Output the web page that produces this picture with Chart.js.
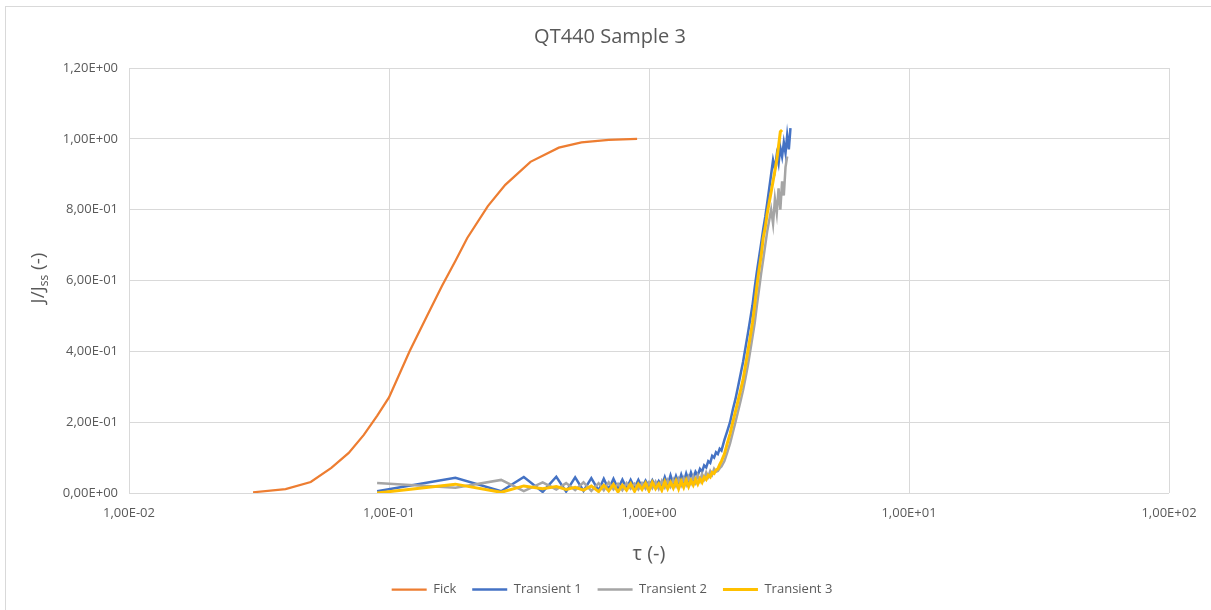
<!DOCTYPE html>
<html>
<head>
<meta charset="utf-8">
<title>QT440 Sample 3</title>
<script src="https://cdn.jsdelivr.net/npm/chart.js@4.4.1/dist/chart.umd.min.js"></script>
<style>
  html, body { margin: 0; padding: 0; background: #fff; }
  #wrap { position: relative; width: 1211px; height: 610px; }
</style>
</head>
<body>
<div id="wrap"><canvas id="myChart" width="1211" height="610"></canvas></div>
<script>
// Fick curve (tau, J/Jss)
const fickTau = [0.03, 0.04, 0.05, 0.06, 0.07, 0.08, 0.09, 0.1, 0.12, 0.14, 0.16, 0.18, 0.2, 0.24, 0.28, 0.35, 0.45, 0.55, 0.7, 0.9];
const fickJ = [0.002, 0.011, 0.031, 0.071, 0.113, 0.164, 0.218, 0.27, 0.40, 0.50, 0.585, 0.655, 0.72, 0.81, 0.87, 0.935, 0.975, 0.99, 0.997, 1.0];

// measurement times shared by the transients
const tauT = [
  0.09, 0.18, 0.27, 0.33, 0.39, 0.44, 0.48, 0.52, 0.56, 0.60,
  0.64, 0.67, 0.70, 0.73, 0.76, 0.79, 0.82, 0.85, 0.88, 0.91,
  0.94, 0.97, 1.00, 1.03, 1.06, 1.09, 1.12, 1.15, 1.18, 1.21,
  1.24, 1.27, 1.30, 1.33, 1.36, 1.39, 1.42, 1.45, 1.48, 1.51,
  1.54, 1.57, 1.60, 1.63, 1.66, 1.69, 1.72, 1.75, 1.78, 1.81,
  1.84, 1.87, 1.90, 1.95, 2.00, 2.05, 2.10, 2.15, 2.20, 2.25,
  2.30, 2.35, 2.40, 2.45, 2.50, 2.55, 2.60, 2.65, 2.70, 2.75,
  2.80, 2.85, 2.90, 2.95, 3.00, 3.05, 3.10, 3.15, 3.20, 3.25,
  3.30, 3.35, 3.40, 3.45, 3.50
];

const transient1 = [
  0.005, 0.043, 0.005, 0.045, 0.003, 0.046, 0.004, 0.044, 0.006, 0.042,
  0.007, 0.040, 0.010, 0.040, 0.012, 0.038, 0.013, 0.037, 0.015, 0.037,
  0.016, 0.035, 0.018, 0.036, 0.017, 0.034, 0.020, 0.045, 0.022, 0.050,
  0.025, 0.048, 0.028, 0.052, 0.030, 0.055, 0.035, 0.058, 0.040, 0.060,
  0.050, 0.068, 0.060, 0.078, 0.072, 0.090, 0.085, 0.105, 0.100, 0.115,
  0.110, 0.125, 0.120, 0.150, 0.175, 0.200, 0.235, 0.265, 0.300, 0.335,
  0.370, 0.410, 0.450, 0.490, 0.530, 0.580, 0.625, 0.665, 0.705, 0.745,
  0.780, 0.820, 0.860, 0.900, 0.940, 0.915, 0.955, 0.930, 0.975, 0.950,
  0.990, 0.960, 1.010, 0.970, 1.030
];

const transient2 = [
  0.028, 0.015, 0.037, 0.005, 0.030, 0.010, 0.028, 0.008, 0.030, 0.006,
  0.028, 0.008, 0.030, 0.010, 0.026, 0.008, 0.028, 0.012, 0.026, 0.010,
  0.028, 0.012, 0.030, 0.014, 0.032, 0.012, 0.034, 0.016, 0.036, 0.018,
  0.038, 0.020, 0.040, 0.022, 0.042, 0.024, 0.045, 0.028, 0.048, 0.030,
  0.050, 0.034, 0.054, 0.040, 0.058, 0.046, 0.062, 0.052, 0.068, 0.060,
  0.062, 0.070, 0.075, 0.090, 0.115, 0.140, 0.170, 0.200, 0.230, 0.260,
  0.290, 0.325, 0.360, 0.400, 0.440, 0.480, 0.530, 0.575, 0.620, 0.660,
  0.700, 0.740, 0.770, 0.800, 0.760, 0.830, 0.790, 0.860, 0.800, 0.880,
  0.840, 0.920, 0.950
];

const transient3 = [
  0.000, 0.025, 0.002, 0.020, 0.012, 0.018, 0.010, 0.016, 0.008, 0.020,
  0.004, 0.022, 0.006, 0.024, 0.003, 0.022, 0.008, 0.026, 0.005, 0.025,
  0.010, 0.028, 0.006, 0.030, 0.012, 0.026, 0.008, 0.032, 0.012, 0.030,
  0.014, 0.034, 0.012, 0.033, 0.016, 0.036, 0.018, 0.035, 0.022, 0.038,
  0.025, 0.040, 0.030, 0.045, 0.038, 0.050, 0.045, 0.058, 0.055, 0.065,
  0.068, 0.080, 0.090, 0.110, 0.140, 0.167, 0.200, 0.230, 0.260, 0.290,
  0.320, 0.360, 0.400, 0.440, 0.480, 0.530, 0.585, 0.630, 0.670, 0.720,
  0.750, 0.790, 0.820, 0.850, 0.880, 0.910, 0.940, 0.980, 1.020, 1.025
];

const xTicks = [0.01, 0.1, 1, 10, 100];
const seriesNames = ["Fick", "Transient 1", "Transient 2", "Transient 3"];
const seriesColors = ["#ED7D31", "#4472C4", "#A5A5A5", "#FFC000"];

const textColor = "#595959";
const gridColor = "#D9D9D9";
const fontFamily = "'Open Sans', sans-serif";

//helper: excel style scientific label, e.g. 1,20E+00
function sci(v) {
  if (Math.abs(v) < 1e-12) return "0,00E+00";
  const e = Math.floor(Math.log10(Math.abs(v)) + 1e-9);
  const m = v / Math.pow(10, e);
  return m.toFixed(2).replace(".", ",") + "E" + (e < 0 ? "-" : "+") + String(Math.abs(e)).padStart(2, "0");
}

function pairs(xs, ys) {
  return ys.map((y, i) => ({ x: xs[i], y: y }));
}

// title, y-axis title (with subscript) and frame
const decorations = {
  id: "decorations",
  beforeDraw(chart) {
    const ctx = chart.ctx;
    ctx.save();
    ctx.strokeStyle = "#D9D9D9";
    ctx.lineWidth = 1;
    ctx.strokeRect(5.5, 6.5, 1210, 700);
    ctx.restore();
  },
  afterDraw(chart) {
    const ctx = chart.ctx;
    ctx.save();
    ctx.fillStyle = textColor;
    ctx.textBaseline = "middle";
    ctx.textAlign = "center";
    ctx.font = "20px " + fontFamily;
    ctx.fillText("QT440 Sample 3", 610, 37);

    // y title rotated
    ctx.translate(39, 278);
    ctx.rotate(-Math.PI / 2);
    ctx.textAlign = "left";
    const big = "19px " + fontFamily;
    const small = "12px " + fontFamily;
    ctx.font = big;
    const w1 = ctx.measureText("J/J").width;
    const w3 = ctx.measureText(" (-)").width;
    ctx.font = small;
    const w2 = ctx.measureText("ss").width;
    let x = -(w1 + w2 + w3) / 2;
    ctx.font = big;
    ctx.fillText("J/J", x, 0);
    x += w1;
    ctx.font = small;
    ctx.fillText("ss", x, 6);
    x += w2;
    ctx.font = big;
    ctx.fillText(" (-)", x, 0);
    ctx.restore();
  }
};

const lineSets = [
  { data: pairs(fickTau, fickJ), width: 2.25, order: 3 },
  { data: pairs(tauT, transient1), width: 2.5, order: 2 },
  { data: pairs(tauT, transient2), width: 2.5, order: 1 },
  { data: pairs(tauT, transient3), width: 3, order: 0 }
];

const config = {
  type: "line",
  data: {
    datasets: lineSets.map((s, i) => ({
      label: seriesNames[i],
      data: s.data,
      borderColor: seriesColors[i],
      backgroundColor: seriesColors[i],
      borderWidth: s.width,
      pointRadius: 0,
      tension: 0,
      fill: false,
      order: s.order
    }))
  },
  options: {
    responsive: false,
    animation: false,
    layout: { padding: { top: 68, right: 42, left: 55, bottom: 4 } },
    plugins: {
      legend: {
        position: "bottom",
        labels: {
          color: textColor,
          font: { family: fontFamily, size: 13 },
          usePointStyle: true,
          pointStyle: "line",
          pointStyleWidth: 35,
          boxHeight: 10,
          padding: 16,
          sort: (a, b) => a.datasetIndex - b.datasetIndex
        }
      },
      title: { display: false },
      tooltip: { enabled: false }
    },
    scales: {
      x: {
        type: "logarithmic",
        min: 0.01,
        max: 100,
        afterBuildTicks: (scale) => {
          scale.ticks = xTicks.map((v) => ({ value: v }));
        },
        afterFit: (scale) => {
          scale.height = 74;
        },
        grid: { color: gridColor, drawTicks: false },
        border: { display: false },
        ticks: {
          color: textColor,
          font: { family: fontFamily, size: 13 },
          padding: 12,
          autoSkip: false,
          maxRotation: 0,
          callback: (v) => sci(v)
        },
        title: {
          display: true,
          text: "τ (-)",
          color: textColor,
          font: { family: fontFamily, size: 20 },
          padding: { top: 0, bottom: 1 }
        }
      },
      y: {
        min: 0,
        max: 1.2,
        afterFit: (scale) => {
          scale.width = 74;
        },
        grid: { color: gridColor, drawTicks: false },
        border: { display: false },
        ticks: {
          stepSize: 0.2,
          color: textColor,
          font: { family: fontFamily, size: 13 },
          padding: 11,
          callback: (v) => sci(v)
        }
      }
    }
  },
  plugins: [decorations]
};

const ctx = document.getElementById("myChart").getContext("2d");
new Chart(ctx, config);
</script>
</body>
</html>
